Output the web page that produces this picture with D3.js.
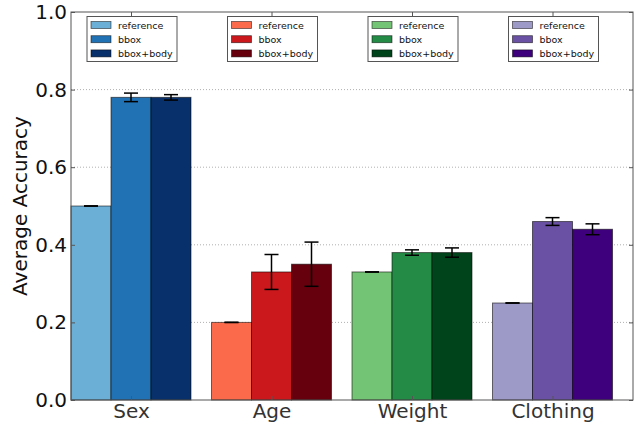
<!DOCTYPE html>
<html>
<head>
<meta charset="utf-8">
<script src="https://cdn.jsdelivr.net/npm/d3@7/dist/d3.min.js"></script>
<style>
  html, body { margin: 0; padding: 0; background: #fff; }
  svg { display: block; font-family: "DejaVu Sans", sans-serif; }
</style>
</head>
<body>
<svg id="chart" width="635" height="425"></svg>
<script>
// Attribute groups and the three input settings compared in each
const categories = ["Sex", "Age", "Weight", "Clothing"];
const series = ["reference", "bbox", "bbox+body"];

// Average accuracy per setting (one value per category)
const referenceValues = [0.50, 0.20, 0.33, 0.25];
const bboxValues      = [0.78, 0.33, 0.38, 0.46];
const bboxBodyValues  = [0.78, 0.35, 0.38, 0.44];

// Error bar half-widths
const referenceErrors = [0.0, 0.0, 0.0, 0.0];
const bboxErrors      = [0.011, 0.045, 0.007, 0.010];
const bboxBodyErrors  = [0.007, 0.057, 0.012, 0.014];

const yTicks = [0.0, 0.2, 0.4, 0.6, 0.8, 1.0];

// One colour ramp per category (light -> dark for the three settings)
const palettes = [
  ["#6baed6", "#2171b5", "#08306b"],
  ["#fb6a4a", "#cb181d", "#67000d"],
  ["#74c476", "#238b45", "#00441b"],
  ["#9e9ac8", "#6a51a3", "#3f007d"]
];

const valuesBySeries = [referenceValues, bboxValues, bboxBodyValues];
const errorsBySeries = [referenceErrors, bboxErrors, bboxBodyErrors];

const rows = [];
categories.forEach((c, ci) => {
  series.forEach((s, si) => {
    rows.push({
      cat: c, ci: ci, ser: s, si: si,
      value: valuesBySeries[si][ci],
      err: errorsBySeries[si][ci],
      color: palettes[ci][si]
    });
  });
});

const margin = { left: 71, right: 633, top: 12, bottom: 400 };
const svg = d3.select("#chart");

const x0 = d3.scaleBand().domain(categories).range([margin.left, margin.right]).padding(0);
const barW = x0.bandwidth() * 0.2847;
const x1 = d3.scaleBand().domain(series).range([0, barW * 3]).padding(0);
const y = d3.scaleLinear().domain([0, 1]).range([margin.bottom, margin.top]);

// Dotted horizontal grid
svg.append("g")
  .selectAll("line")
  .data(yTicks.filter(t => t > 0 && t < 1))
  .join("line")
  .attr("x1", margin.left).attr("x2", margin.right)
  .attr("y1", d => y(d)).attr("y2", d => y(d))
  .attr("stroke", "#b0b0b0")
  .attr("stroke-width", 1)
  .attr("stroke-dasharray", "1,2");

// Bars
svg.append("g")
  .selectAll("rect")
  .data(rows)
  .join("rect")
  .attr("x", d => x0(d.cat) + x1(d.ser))
  .attr("y", d => y(d.value))
  .attr("width", x1.bandwidth())
  .attr("height", d => y(0) - y(d.value))
  .attr("fill", d => d.color)
  .attr("stroke", "#000")
  .attr("stroke-opacity", 0.55)
  .attr("stroke-width", 1);

// Error bars
const capHalf = 7;
const eb = svg.append("g").attr("stroke", "#000").attr("stroke-width", 1.5);
rows.forEach(d => {
  const cx = x0(d.cat) + x1(d.ser) + x1.bandwidth() / 2;
  const yTop = y(d.value + d.err), yBot = y(d.value - d.err);
  if (d.err > 0) {
    eb.append("line").attr("x1", cx).attr("x2", cx).attr("y1", yTop).attr("y2", yBot);
  }
  eb.append("line").attr("x1", cx - capHalf).attr("x2", cx + capHalf).attr("y1", yTop).attr("y2", yTop);
  eb.append("line").attr("x1", cx - capHalf).attr("x2", cx + capHalf).attr("y1", yBot).attr("y2", yBot);
});

// Axes frame
svg.append("rect")
  .attr("x", margin.left).attr("y", margin.top)
  .attr("width", margin.right - margin.left)
  .attr("height", margin.bottom - margin.top)
  .attr("fill", "none")
  .attr("stroke", "#555")
  .attr("stroke-width", 1);

// Y axis (left) with inward ticks
const yAxis = d3.axisLeft(y).tickValues(yTicks).tickFormat(d3.format(".1f"))
  .tickSizeInner(-4).tickSizeOuter(0).tickPadding(4);
const gy = svg.append("g").attr("transform", `translate(${margin.left},0)`).call(yAxis);
gy.select(".domain").remove();
gy.selectAll(".tick line").attr("stroke", "#555");
gy.selectAll("text").attr("font-size", 20).attr("fill", "#111")
  .attr("font-family", "DejaVu Sans");

// Right-side inward ticks
const gyr = svg.append("g").attr("transform", `translate(${margin.right},0)`)
  .call(d3.axisRight(y).tickValues(yTicks).tickSizeInner(-4).tickSizeOuter(0).tickFormat(""));
gyr.select(".domain").remove();
gyr.selectAll(".tick line").attr("stroke", "#555");

// X axis: ticks at the middle bar of each group
const xTickPos = c => x0(c) + x1("bbox") + x1.bandwidth() / 2;
const xScaleTicks = d3.scaleOrdinal().domain(categories).range(categories.map(xTickPos));
const gx = svg.append("g").attr("transform", `translate(0,${margin.bottom})`)
  .call(d3.axisBottom(xScaleTicks).tickSizeInner(-4).tickSizeOuter(0).tickPadding(4));
gx.select(".domain").remove();
gx.selectAll(".tick line").attr("stroke", "#555");
gx.selectAll("text").attr("font-size", 20).attr("fill", "#333")
  .attr("font-family", "DejaVu Sans");

const gxt = svg.append("g").attr("transform", `translate(0,${margin.top})`)
  .call(d3.axisTop(xScaleTicks).tickSizeInner(-4).tickSizeOuter(0).tickFormat(""));
gxt.select(".domain").remove();
gxt.selectAll(".tick line").attr("stroke", "#555");

// Y axis title
svg.append("text")
  .attr("transform", `translate(20,${(margin.top + margin.bottom) / 2}) rotate(-90)`)
  .attr("text-anchor", "middle")
  .attr("dominant-baseline", "central")
  .attr("font-size", 20)
  .attr("fill", "#111")
  .text("Average Accuracy");

// One legend per category group
categories.forEach((c, ci) => {
  const lx = x0(c) + 16, ly = 16.5;
  const lg = svg.append("g").attr("transform", `translate(${lx},${ly})`);
  lg.append("rect").attr("width", 90).attr("height", 45)
    .attr("fill", "#fff").attr("stroke", "#555").attr("stroke-width", 1);
  series.forEach((s, si) => {
    const ry = 8.5 + si * 14.2;
    lg.append("rect").attr("x", 4).attr("y", ry - 3.5).attr("width", 20).attr("height", 7)
      .attr("fill", palettes[ci][si]).attr("stroke", "#000").attr("stroke-opacity", 0.6)
      .attr("stroke-width", 0.8);
    lg.append("text").attr("x", 31).attr("y", ry).attr("dominant-baseline", "central")
      .attr("font-size", 9.5).attr("fill", "#111").text(s);
  });
});
</script>
</body>
</html>
